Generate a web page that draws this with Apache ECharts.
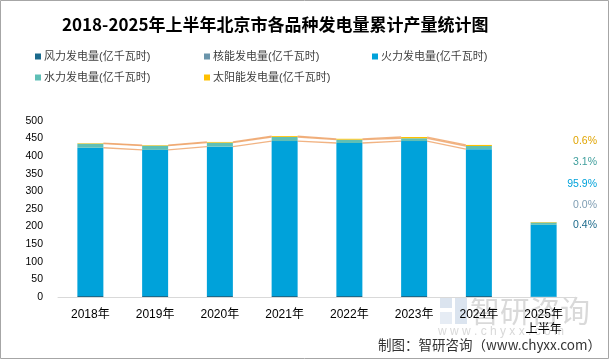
<!DOCTYPE html>
<html>
<head>
<meta charset="utf-8">
<script src="https://cdn.jsdelivr.net/npm/echarts@6/dist/echarts.min.js"></script>
<style>
html,body{margin:0;padding:0;background:#fff;}
#c{width:609px;height:359px;}
</style>
</head>
<body>
<div id="c"></div>
<script>
const categories = ['2018年','2019年','2020年','2021年','2022年','2023年','2024年','2025年\n上半年'];
const seriesNames = ['风力发电量(亿千瓦时)','核能发电量(亿千瓦时)','火力发电量(亿千瓦时)','水力发电量(亿千瓦时)','太阳能发电量(亿千瓦时)'];
const wind    = [3.0, 3.0, 2.9, 3.0, 2.8, 2.8, 2.9, 0.85];
const nuclear = [0, 0, 0, 0, 0, 0, 0, 0];
const thermal = [421.0, 415.0, 424.1, 440.0, 434.7, 440.2, 417.1, 204.3];
const hydro   = [11.6, 12.0, 11.5, 11.5, 9.5, 8.0, 9.0, 6.6];
const solar   = [1.4, 1.5, 2.0, 2.5, 2.5, 3.5, 3.0, 1.3];
const sharesLabels = ['0.6%','3.1%','95.9%','0.0%','0.4%'];
const yTicks = [0,50,100,150,200,250,300,350,400,450,500];

const colors = ['#1B6A8C','#6A95AB','#00A2DA','#5FBFB6','#FFC000'];
const shareColors = ['#E0A400','#3E9E9C','#00A2DA','#7E9DB3','#1B6A8C'];

const allData = [wind, nuclear, thermal, hydro, solar];
function cum(upto){ return categories.map((_,i)=>{let s=0;for(let k=0;k<=upto;k++) s+=allData[k][i]; return s;}); }
const levels = [cum(2), cum(3), cum(4)];
const lineData = [];
levels.forEach(lv=>{ for(let i=0;i<6;i++){ lineData.push([i, lv[i], lv[i+1]]); } });

const BW = 26;
const chart = echarts.init(document.getElementById('c'));
const font = '"Liberation Sans", "Noto Sans CJK SC", sans-serif';

const series = seriesNames.map((n,k)=>({
  name:n, type:'bar', stack:'t', barWidth:BW, data:allData[k],
  itemStyle:{color:colors[k]}, z:3
}));
series.push({
  type:'custom', name:'lines', silent:true, z:2,
  data: lineData,
  renderItem:function(params, api){
    const p1 = api.coord([api.value(0), api.value(1)]);
    const p2 = api.coord([api.value(0)+1, api.value(2)]);
    return {type:'line', shape:{x1:p1[0]+BW/2, y1:p1[1], x2:p2[0]-BW/2, y2:p2[1]},
      style:{stroke:'rgba(238,160,100,0.8)', lineWidth:1.3}};
  }
});

const graphics = [
  {type:'rect', shape:{x:0.5,y:0.5,width:608,height:358}, style:{fill:'none', stroke:'#a6a6a6', lineWidth:1}, silent:true, z:-10},
  {type:'rect', shape:{x:440,y:298,width:12,height:10}, style:{fill:'rgba(190,205,225,0.55)'}, z:-5},
  {type:'rect', shape:{x:455,y:298,width:12,height:26}, style:{fill:'rgba(190,205,225,0.55)'}, z:-5},
  {type:'rect', shape:{x:440,y:312,width:12,height:12}, style:{fill:'rgba(200,212,230,0.45)'}, z:-5},
  {type:'text', left:470, top:296, style:{text:'智研咨询', font:'30px "Noto Sans CJK SC"', fill:'rgba(185,185,185,0.55)'}, z:-5},
  {type:'text', left:438, top:326, style:{text:'w w w . c h y x x . c o m', font:'12px "Liberation Sans"', fill:'rgba(190,190,190,0.6)'}, z:-5},
  {type:'text', right:8, top:338, style:{text:'制图：智研咨询（www.chyxx.com）', font:'13.5px "Noto Sans CJK SC"', fill:'#333'}, z:10}
];
const shareY = [141.5, 162.5, 184.5, 205.5, 226];
sharesLabels.forEach((t,i)=>{
  graphics.push({type:'text', right:12, top:shareY[i]-6, style:{text:t, font:'10.5px "Liberation Sans"', fill:shareColors[i]}});
});

const legendPos = [[35,51],[204,51],[372,51],[35,72],[204,72]];
const legends = seriesNames.map((n,k)=>({
  data:[n], left:legendPos[k][0], top:legendPos[k][1], padding:0, itemWidth:6, itemHeight:6, icon:'rect',
  selectedMode:false, textStyle:{fontSize:11, color:'#404040', fontFamily:font, padding:[0,0,0,-2]}
}));

chart.setOption({
  animation:false,
  backgroundColor:'#fff',
  title:{text:'2018-2025年上半年北京市各品种发电量累计产量统计图', left:62, top:16, padding:0,
    textStyle:{fontSize:17, fontWeight:'bold', color:'#000', fontFamily:'"Noto Sans CJK SC", serif'}},
  legend:legends,
  grid:{left:58, right:33, top:121, bottom:62, containLabel:false},
  xAxis:{type:'category', data:categories,
    axisLine:{lineStyle:{color:'#d9d9d9'}}, axisTick:{show:false},
    axisLabel:{fontSize:12, color:'#000', margin:10, fontFamily:font, lineHeight:15}},
  yAxis:{type:'value', min:0, max:500, interval:50,
    axisLine:{show:false}, axisTick:{show:false}, splitLine:{show:false},
    axisLabel:{fontSize:10.5, color:'#000', margin:15, fontFamily:font,
      formatter:v=> yTicks.includes(v) ? String(v) : ''}},
  graphic:graphics,
  series:series
});
</script>
</body>
</html>
